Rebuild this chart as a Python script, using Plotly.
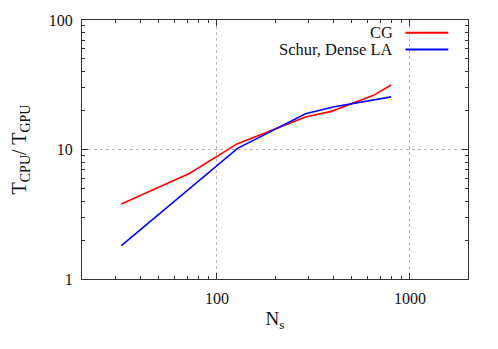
import plotly.graph_objects as go

# Data
cg_ns = [32, 72, 128, 288, 392, 648, 800]
cg_speedup = [3.79, 6.53, 11.1, 17.8, 19.7, 26.2, 31.5]

schur_ns = [32, 128, 288, 400, 800]
schur_speedup = [1.81, 10.2, 18.9, 21.3, 25.5]

series_names = ["CG", "Schur, Dense LA"]
series_colors = ["#ff0000", "#0000ff"]

x_ticks = [100, 1000]
x_tick_labels = ["100", "1000"]
y_ticks = [1, 10, 100]
y_tick_labels = ["1", "10", "100"]

FONT = "Liberation Serif"

fig = go.Figure()
fig.add_trace(go.Scatter(x=cg_ns, y=cg_speedup, mode="lines", name=series_names[0],
                         line=dict(color=series_colors[0], width=1.6)))
fig.add_trace(go.Scatter(x=schur_ns, y=schur_speedup, mode="lines", name=series_names[1],
                         line=dict(color=series_colors[1], width=1.6)))

axis_common = dict(
    type="log", showline=True, linecolor="#333333", linewidth=1, mirror="allticks",
    ticks="inside", ticklen=6, tickcolor="#333333", tickwidth=1,
    showgrid=True, gridcolor="#b8b8b8", griddash="dot", gridwidth=1,
    zeroline=False, automargin=False,
    tickfont=dict(family=FONT, size=16, color="#111111"),
    minor=dict(ticks="inside", ticklen=3, tickcolor="#333333", dtick="D1", showgrid=False),
)

fig.update_xaxes(**axis_common, range=[1.30103, 3.30103], tickvals=x_ticks, ticktext=x_tick_labels,
                 title=dict(text="N<sub>s</sub>", font=dict(family=FONT, size=19, color="#111111"), standoff=5),
                 ticklabelstandoff=5)
fig.update_yaxes(**axis_common, range=[0, 2], tickvals=y_ticks, ticktext=y_tick_labels,
                 title=dict(text="T<sub>CPU</sub>/ T<sub>GPU</sub>", font=dict(family=FONT, size=20, color="#111111"), standoff=27),
                 ticklabelstandoff=5)

# gnuplot-style legend: text on the left, sample line on the right
legend_rows = [0.951, 0.886]
for name, color, yrow in zip(series_names, series_colors, legend_rows):
    fig.add_annotation(xref="paper", yref="paper", x=0.81, y=yrow, text=name, showarrow=False,
                       xanchor="right", yanchor="middle", font=dict(family=FONT, size=16.5, color="#111111"))
    fig.add_shape(type="line", xref="paper", yref="paper", x0=0.838, x1=0.949, y0=yrow, y1=yrow,
                  line=dict(color=color, width=2))

# page body has an 8px margin, so the figure is sized to fit the 498x349 window
fig.update_layout(
    width=490, height=341, showlegend=False,
    margin=dict(l=73.5, r=30, t=11.5, b=70, autoexpand=False),
    paper_bgcolor="white", plot_bgcolor="white",
    font=dict(family=FONT),
)

fig.write_html("out.html")
